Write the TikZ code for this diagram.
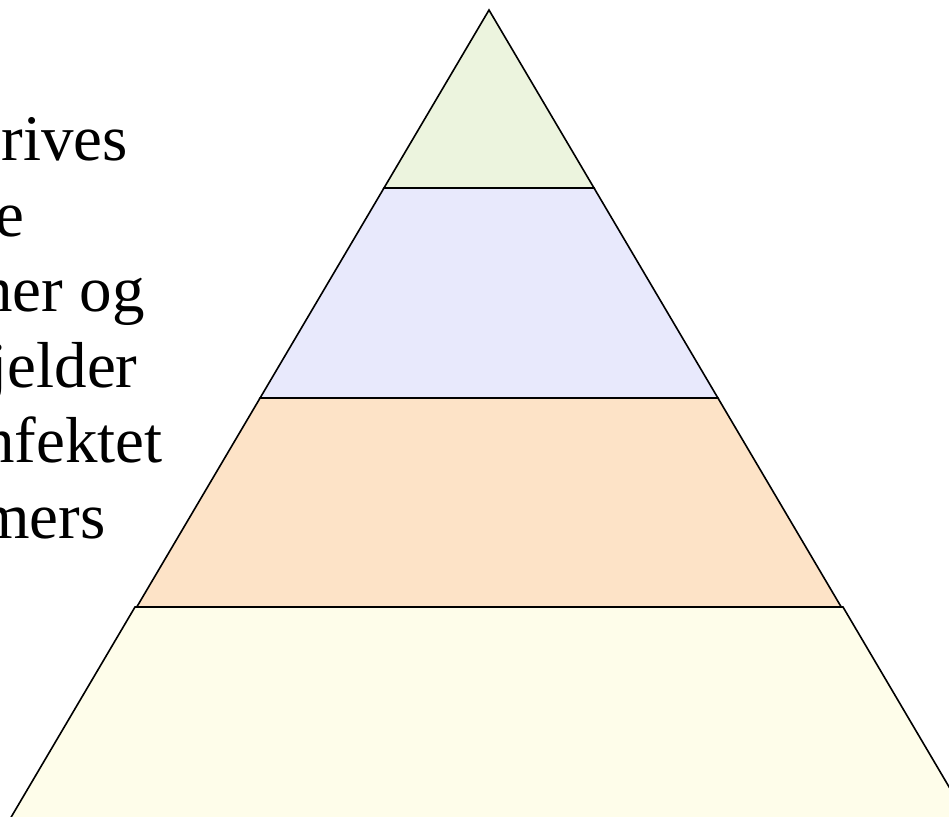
\documentclass[tikz,border=0pt]{standalone}
\usepackage{fontspec}
\setmainfont{Liberation Serif}
\definecolor{tiergreen}{RGB}{236,244,222}
\definecolor{tierblue}{RGB}{232,233,252}
\definecolor{tierpeach}{RGB}{253,227,199}
\definecolor{tiercream}{RGB}{254,253,234}

\begin{document}
\begin{tikzpicture}[
    x=0.5pt, y=-0.5pt,
    tier/.style={draw=black, line width=0.8pt, line join=miter},
    cuttext/.style={font=\fontsize{32.5}{40}\selectfont, inner sep=0pt, anchor=base east}
]
    \useasboundingbox (0,0) rectangle (949,816);
    \clip (0,0) rectangle (949,816);

    % pyramid, sides with slope 0.59 from the apex
    \filldraw[tier, fill=tiergreen] (489,10) -- ({489+0.59*178},188) -- ({489-0.59*178},188) -- cycle;
    \foreach \ya/\yb/\col in {188/398/tierblue, 398/607/tierpeach}
        \filldraw[tier, fill=\col] ({489-0.59*(\ya-10)},\ya) -- ({489+0.59*(\ya-10)},\ya)
            -- ({489+0.59*(\yb-10)},\yb) -- ({489-0.59*(\yb-10)},\yb) -- cycle;
    % bottom tier sits a little wider
    \filldraw[tier, fill=tiercream] (135,607) -- (843,607) -- (978,836) -- (0,836) -- cycle;

    % text cut off at the left edge
    \node[cuttext] (rives) at (128.5,160) {rives};
    \node[cuttext] (e) at (24.5,236) {e};
    \node[cuttext] (nerog) at (145,311) {ner og};
    \node[cuttext] (jelder) at (138,387) {jelder};
    \node[cuttext] (nfektet) at (163,462) {nfektet};
    \node[cuttext] (mers) at (106,538) {mers};
\end{tikzpicture}
\end{document}
